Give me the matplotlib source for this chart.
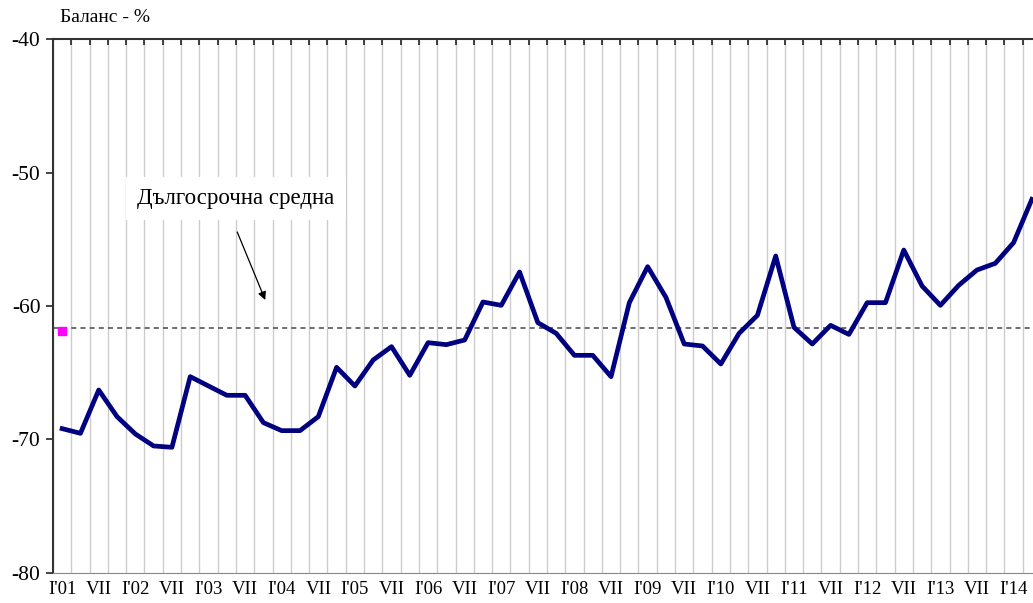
import numpy as np
import matplotlib.pyplot as plt

# Баланс на тримесечие, I'01 - IV'14
balans = [-69.2, -69.55, -66.3, -68.3, -69.6, -70.5, -70.6, -65.3, -66.0, -66.7,
          -66.7, -68.75, -69.35, -69.35, -68.3, -64.6, -66.0, -64.05, -63.05, -65.2,
          -62.75, -62.9, -62.55, -59.7, -59.95, -57.45, -61.25, -62.05, -63.7, -63.7,
          -65.3, -59.75, -57.05, -59.35, -62.85, -63.0, -64.35, -62.05, -60.7, -56.25,
          -61.6, -62.85, -61.45, -62.13, -59.75, -59.75, -55.8, -58.5, -59.95, -58.45,
          -57.3, -56.8, -55.25, -52.0]
sredna = -61.65
godini = ["01", "02", "03", "04", "05", "06", "07", "08", "09", "10", "11", "12", "13", "14"]

n = len(balans)
x = np.arange(n)
etiketi = []
for i in range(0, n, 2):
    if i % 4 == 0:
        etiketi.append("I'" + godini[i // 4])
    else:
        etiketi.append("VII")

plt.rcParams['font.family'] = ['Liberation Serif', 'DejaVu Serif']
plt.rcParams['axes.unicode_minus'] = False

fig = plt.figure(figsize=(10.33, 6.03), dpi=100)
ax = fig.add_axes([53 / 1033, 30.4 / 603, 988 / 1033, 533.2 / 603])

ax.set_xlim(-0.5, n - 0.5)
ax.set_ylim(-80, -40)

# вертикална решетка между категориите
ax.set_xticks(np.arange(-0.5, n, 1), minor=True)
ax.grid(True, which='minor', axis='x', color='#cccccc', lw=1.0)
ax.set_xticks(np.arange(0, n, 2))
ax.set_xticklabels(etiketi, fontsize=13.5)
ax.tick_params(axis='x', which='major', length=0, pad=6)
ax.tick_params(axis='x', which='minor', top=True, bottom=False, direction='in',
               length=4, color='#222222', width=1.2)
ax.set_yticks([-80, -70, -60, -50, -40])
ax.tick_params(axis='y', labelsize=15.5, length=5, width=1.2, color='#222222', pad=4)

ax.spines['right'].set_visible(False)
ax.spines['bottom'].set_color('#888888')
ax.spines['left'].set_color('#333333')
ax.spines['left'].set_linewidth(1.5)
ax.spines['top'].set_color('#333333')
ax.spines['top'].set_linewidth(1.5)

ax.axhline(sredna, color='#555555', lw=1.2, ls=(0, (3, 2.5)), zorder=2)
ax.plot([0], [-61.85], marker='s', ms=6, color='#ff00ff', ls='none', zorder=3)
ax.plot(x, balans, color='#000080', lw=3.4, zorder=4)

ax.text(9.5, -51.9, 'Дългосрочна средна', fontsize=16.5, ha='center', va='center',
        bbox=dict(facecolor='white', edgecolor='none', pad=8), zorder=5)
ax.annotate('', xy=(11.1, -59.55), xytext=(9.57, -54.45),
            arrowprops=dict(arrowstyle='-|>', color='black', lw=0.9,
                            mutation_scale=12, shrinkA=0, shrinkB=0), zorder=5)

fig.text(60 / 1033, 1 - 18 / 603, 'Баланс - %', fontsize=14, va='center', ha='left')

fig.savefig('out.png', dpi=100)
